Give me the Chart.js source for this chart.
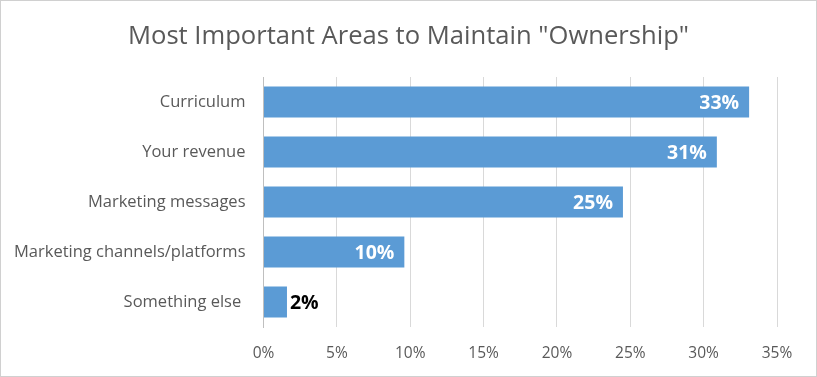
<!DOCTYPE html>
<html>
<head>
<meta charset="utf-8">
<script src="https://cdn.jsdelivr.net/npm/chart.js@4.4.1/dist/chart.umd.min.js"></script>
<style>
  html, body { margin: 0; padding: 0; background: #fff; }
  #wrap { width: 817px; height: 377px; }
</style>
</head>
<body>
<div id="wrap"><canvas id="chart"></canvas></div>
<script>
const chartTitle = 'Most Important Areas to Maintain "Ownership"';
const categories = ["Curriculum", "Your revenue", "Marketing messages", "Marketing channels/platforms", "Something else "];
const shares = [33.1, 30.9, 24.5, 9.6, 1.6];
const xTicks = [0, 5, 10, 15, 20, 25, 30, 35];

const FONT = "'Open Sans', 'Liberation Sans', sans-serif";
const GREY = "#595959";

// white value labels inside the bar end, black outside when the bar is too short
const valueLabels = {
  id: "valueLabels",
  afterDatasetsDraw(chart) {
    const ctx = chart.ctx;
    const meta = chart.getDatasetMeta(0);
    ctx.save();
    ctx.font = "bold 19.5px " + FONT;
    ctx.textBaseline = "middle";
    meta.data.forEach((bar, i) => {
      const txt = Math.round(shares[i]) + "%";
      const w = ctx.measureText(txt).width;
      const len = bar.x - bar.base;
      if (len > w + 16) {
        ctx.fillStyle = "#fff";
        ctx.textAlign = "right";
        ctx.fillText(txt, bar.x - 10, bar.y + 1);
      } else {
        ctx.fillStyle = "#000";
        ctx.textAlign = "left";
        ctx.fillText(txt, bar.x + 3, bar.y + 1);
      }
    });
    ctx.restore();
  }
};

// page frame + title centred on the whole canvas (built-in title centres on the padded box)
const frame = {
  id: "frame",
  beforeDraw(chart) {
    const ctx = chart.ctx;
    ctx.save();
    ctx.fillStyle = "#fff";
    ctx.fillRect(0, 0, chart.width, chart.height);
    ctx.strokeStyle = "#d0d0d0";
    ctx.lineWidth = 1;
    ctx.strokeRect(0.5, 0.5, chart.width - 1, chart.height - 1);
    ctx.restore();
  },
  afterDraw(chart) {
    const ctx = chart.ctx;
    ctx.save();
    ctx.font = "25.6px " + FONT;
    ctx.fillStyle = GREY;
    ctx.textAlign = "center";
    ctx.textBaseline = "alphabetic";
    ctx.fillText(chartTitle, chart.width / 2, 43.5);
    ctx.restore();
  }
};

new Chart(document.getElementById("chart"), {
  type: "bar",
  data: {
    labels: categories,
    datasets: [{
      data: shares,
      backgroundColor: "#5B9BD5",
      barPercentage: 0.62,
      categoryPercentage: 1
    }]
  },
  options: {
    indexAxis: "y",
    responsive: true,
    maintainAspectRatio: false,
    animation: false,
    layout: { padding: { left: 10, right: 40, top: 77, bottom: 0 } },
    scales: {
      x: {
        min: 0,
        max: 35,
        afterBuildTicks: s => { s.ticks = xTicks.map(v => ({ value: v })); },
        afterFit: s => { s.height = 50; },
        ticks: {
          callback: v => v + "%",
          color: GREY,
          font: { family: FONT, size: 15.5 },
          padding: 17
        },
        grid: { color: "#d9d9d9", drawTicks: false },
        border: { display: false }
      },
      y: {
        afterFit: s => { s.width = 253.5; },
        ticks: {
          color: GREY,
          font: { family: FONT, size: 16.5 },
          padding: 18
        },
        grid: { display: false, drawTicks: false },
        border: { color: "#bfbfbf" }
      }
    },
    plugins: {
      legend: { display: false },
      tooltip: { enabled: false },
      title: { display: false }
    }
  },
  plugins: [frame, valueLabels]
});
</script>
</body>
</html>
